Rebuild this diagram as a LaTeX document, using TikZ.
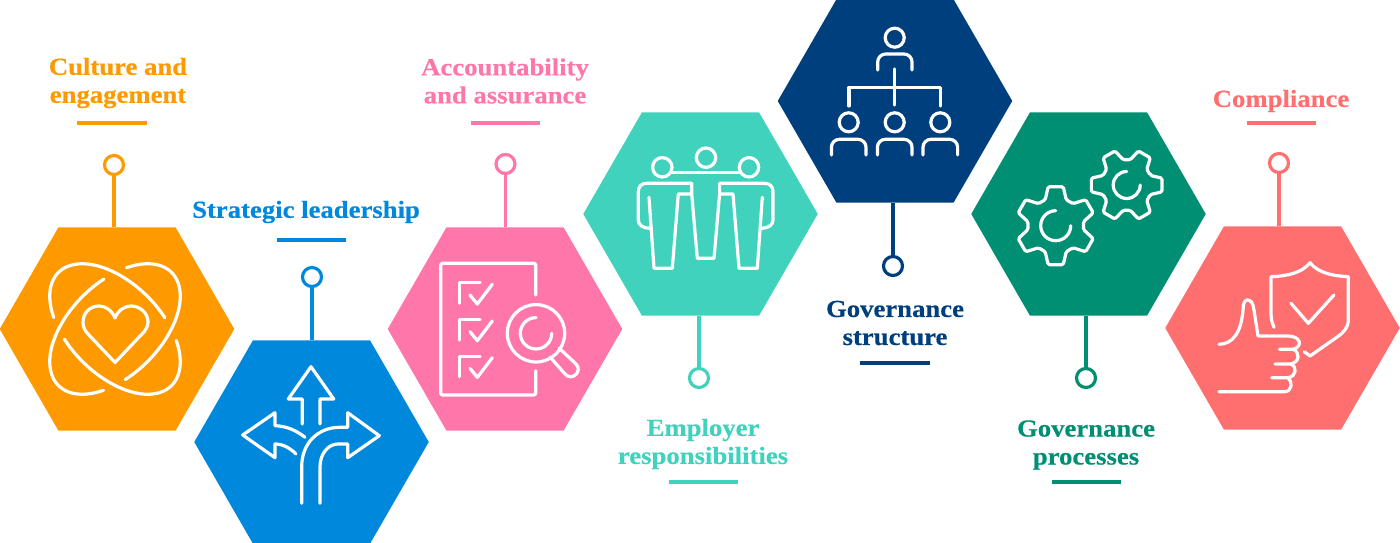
\documentclass[tikz,border=0pt]{standalone}
\usepackage{fontspec}
\setmainfont{Liberation Serif}[BoldFeatures={FakeStretch=1.09,FakeBold=0.4}]
\usetikzlibrary{shapes.geometric}
\usepackage{xcolor}

\definecolor{corange}{HTML}{FF9900}
\definecolor{cblue}{HTML}{0088DD}
\definecolor{cpink}{HTML}{FF77AA}
\definecolor{cteal}{HTML}{40D2BC}
\definecolor{cnavy}{HTML}{003F7D}
\definecolor{cgreen}{HTML}{008F72}
\definecolor{ccoral}{HTML}{FF6F6F}

\tikzset{
  hexcell/.style={regular polygon, regular polygon sides=6, minimum size=234.5pt, inner sep=0pt, outer sep=0pt, draw=none},
  pincircle/.style={circle, minimum size=19pt, inner sep=0pt, outer sep=0pt, line width=3.2pt, fill=white},
  pinline/.style={line width=3.2pt},
  barline/.style={rectangle, minimum width=69.5pt, minimum height=3.6pt, inner sep=0pt, outer sep=0pt},
  title/.style={align=center, font=\fontsize{24.5}{28}\selectfont\bfseries},
  icon/.style={white, line width=3.2pt, line cap=round, line join=round}
}

\newcommand{\gearicon}[5]{
  \draw[icon, rounded corners=1.5pt, shift={(#1,#2)}] ({#5-22}:#4)
    \foreach \a in {0,60,...,300} {
      -- ({#5+\a-11}:#3) -- ({#5+\a+11}:#3) -- ({#5+\a+22}:#4) -- ({#5+\a+38}:#4)
    } -- cycle;
}

\begin{document}
\begin{tikzpicture}[x=1pt,y=-1pt]

      \useasboundingbox (0,0) rectangle (1400,543);

      % Hexagons
      \foreach \n/\x/\y/\col in {A/117/329/corange,B/311.5/442/cblue,C/505/329/cpink,D/700.5/214/cteal,E/895/101/cnavy,F/1088.5/214/cgreen,G/1282.5/328/ccoral}
      {
        \node[hexcell, fill=\col] (hex\n) at (\x,\y) {};
      }

      % Pins
      \foreach \n/\x/\y/\col/\a/\b in {A/114/165/corange/south/north,B/312/277/cblue/south/north,C/505.5/164/cpink/south/north,D/699/378/cteal/north/south,E/893/266/cnavy/north/south,F/1086/378/cgreen/north/south,G/1279/163/ccoral/south/north}
      {
        \node[pincircle, draw=\col] (pin\n) at (\x,\y) {};
        \draw[pinline, \col] (pin\n.\a) -- (pin\n.\a |- hex\n.\b);
      }

      % Bars
      \foreach \n/\x/\y/\col in {A/112/123/corange,B/311.5/240/cblue,C/505.5/123/cpink,D/703.5/482/cteal,E/895/363/cnavy,F/1086.5/482/cgreen,G/1281.5/123/ccoral}
      {
        \node[barline, fill=\col] (bar\n) at (\x,\y) {};
      }

      % Titles
      \node[title, corange] (titleA) at (118,83) {Culture and\\engagement};
      \node[title, cblue] (titleB) at (306,212) {Strategic leadership};
      \node[title, cpink] (titleC) at (505,81) {Accountability\\and assurance};
      \node[title, cteal] (titleD) at (703,444) {Employer\\responsibilities};
      \node[title, cnavy] (titleE) at (895,323) {Governance\\structure};
      \node[title, cgreen] (titleF) at (1086,445) {Governance\\processes};
      \node[title, ccoral] (titleG) at (1281,101) {Compliance};

      % Heart and orbits
      \draw[icon] (115,318) .. controls (112,310) and (105,306) .. (99,306)
        .. controls (90,306) and (83,313) .. (83,322)
        .. controls (83,327) and (85,331) .. (88,334) -- (115,362.5) -- (142,334)
        .. controls (145,331) and (148,327) .. (148,322)
        .. controls (148,313) and (140,306) .. (131,306)
        .. controls (125,306) and (118,310) .. (115,318);
      \foreach \r in {-45,45}
      {
        \begin{scope}[shift={(115,329)},rotate=\r]
          \draw[icon] (70:80pt and 46pt) arc[start angle=70,end angle=230,x radius=80pt,y radius=46pt];
          \draw[icon] (249:80pt and 46pt) arc[start angle=249,end angle=410,x radius=80pt,y radius=46pt];
        \end{scope}
      }

      % Arrows
      \draw[icon] (302.3,424) -- (302.3,399) -- (288.3,399) -- (311,366.7) -- (333.7,399) -- (320,399) -- (320,424);
      \draw[icon] (305,437.3) .. controls (297,431) and (287,426) .. (275,425.7) -- (275,412.7) -- (242.7,435) -- (275,457.7) -- (275,444)
        .. controls (283,444) and (290,448) .. (296,454);
      \draw[icon] (301.7,503.3) -- (301.7,466.7) .. controls (301.7,443) and (318,427.3) .. (340,427.3) -- (347.7,427.3) -- (347.7,412.7) -- (379.3,435.7) -- (347.7,457.7) -- (347.7,444) -- (338,444)
        .. controls (328,444) and (320,454) .. (320,466.7) -- (320,503.3);

      % Checklist
      \draw[icon, rounded corners=2pt] (535.7,295) -- (535.7,263.3) -- (440.7,263.3) -- (440.7,395) -- (535.7,395) -- (535.7,370.7);
      \foreach \d in {0,36.7,73.4}
      {
        \draw[icon] (459.3,303.3+\d) -- (459.3,282.7+\d) -- (480,282.7+\d);
        \draw[icon] (470,295+\d) -- (477.3,304+\d) -- (492.3,284.3+\d);
      }
      \draw[icon] (536,333.3) circle[radius=28.7pt];
      \draw[icon] (536,317.6) arc[start angle=90,end angle=360,radius=15.7pt];
      \draw[icon] (559.3,348.3) -- (576,364) .. controls (583,371) and (572,382) .. (565,374) -- (550,357);

      % People
      \foreach \x in {662.3,706,749}
      {
        \draw[icon] (\x,{\x==706 ? 157.7 : 167.3}) circle[radius=9.7pt];
      }
      \draw[icon] (671.7,172.7) -- (740,172.7);
      \draw[icon] (649,197.3) -- (654,268.3) -- (672.3,268.3) -- (678.3,194) -- (691.7,194) -- (691.7,183.3) -- (646.7,183.3)
        .. controls (641,183.3) and (638.3,187) .. (638.3,191.7) -- (638.3,220) .. controls (638.3,225) and (643,228.3) .. (650,228.3);
      \draw[icon] (762.3,197.3) -- (757.3,268.3) -- (739,268.3) -- (733,194) -- (719.6,194) -- (719.6,183.3) -- (764.6,183.3)
        .. controls (770.3,183.3) and (773,187) .. (773,191.7) -- (773,220) .. controls (773,225) and (768.3,228.3) .. (761.3,228.3);
      \draw[icon] (691.7,194) -- (697.3,258.3) -- (714,258.3) -- (719.6,194);

      % Organisation chart
      \draw[icon] (894.7,37.7) circle[radius=9.5pt];
      \draw[icon, rounded corners=8pt] (877.7,70) -- (877.7,54) -- (912,54) -- (912,70);
      \draw[icon] (894.7,69) -- (894.7,105);
      \draw[icon] (849,106) -- (849,87.3) -- (940.7,87.3) -- (940.7,106);
      \foreach \x in {848.7,894.7,940.3}
      {
        \draw[icon] (\x,122.3) circle[radius=9.5pt];
        \draw[icon, rounded corners=8pt] (\x-17.3,155) -- (\x-17.3,139.3) -- (\x+17.3,139.3) -- (\x+17.3,155);
      }

      % Gears
      \gearicon{1055.7}{225.7}{39.7}{28}{30}
      \gearicon{1126.7}{185}{36}{25.5}{0}
      \draw[icon] (1055.7,210.7) arc[start angle=90,end angle=360,radius=15pt];
      \draw[icon] (1126.7,171.5) arc[start angle=90,end angle=360,radius=13.5pt];

      % Shield and thumb
      \draw[icon] (1274,327.3) .. controls (1272,322) and (1271,319) .. (1271,315) -- (1271,276.7)
        .. controls (1287,276) and (1302,273) .. (1310,262.7)
        .. controls (1318,273) and (1333,276) .. (1348.3,276.7) -- (1348.3,320)
        .. controls (1348.3,328) and (1343,333) .. (1336.7,337.3) -- (1310,356) -- (1304.3,351.7);
      \draw[icon] (1291,303.3) -- (1308.3,323.3) -- (1334,295);
      \draw[icon] (1219,344.3) .. controls (1232,344) and (1241,334) .. (1243,310)
        .. controls (1243,303) and (1245,300) .. (1247.3,300)
        .. controls (1251,300) and (1253,303) .. (1254,310) -- (1258,336) -- (1288,336)
        .. controls (1300,336) and (1304,346) .. (1293,349.3) -- (1279.3,349.3);
      \draw[icon] (1293,349.3) .. controls (1300,352) and (1300,362) .. (1291,364) -- (1275,364);
      \draw[icon] (1291,364) .. controls (1297,367) and (1297,376) .. (1288,377.7) -- (1271.7,377.7);
      \draw[icon] (1288,377.7) .. controls (1293,382) and (1292,391) .. (1285,391.7) -- (1219,391.7);

\end{tikzpicture}
\end{document}
